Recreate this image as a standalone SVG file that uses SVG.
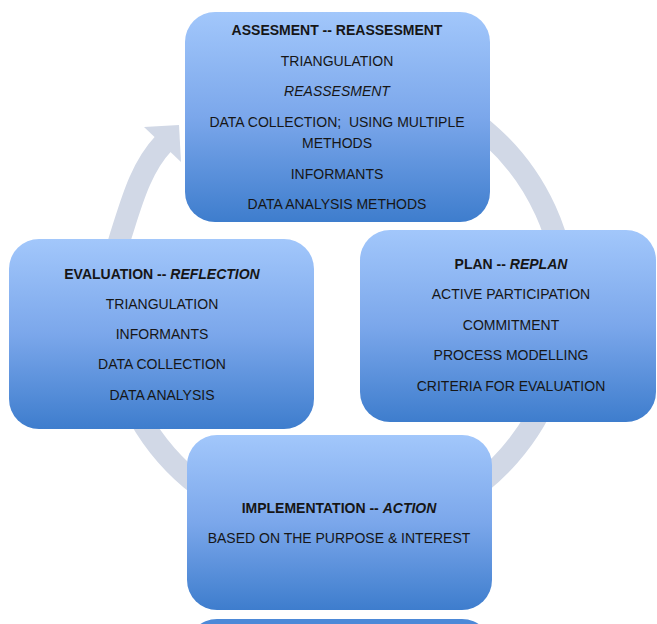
<svg xmlns="http://www.w3.org/2000/svg" width="657" height="624" viewBox="0 0 657 624">
<defs>
<linearGradient id="boxGrad" x1="0" y1="0" x2="0" y2="1">
<stop offset="0" stop-color="#A2C7FB"/>
<stop offset="0.5" stop-color="#7BA7EB"/>
<stop offset="1" stop-color="#3E7DCD"/>
</linearGradient>
<style>
.box{fill:url(#boxGrad);}
.ring{fill:none;stroke:#D1D8E6;stroke-width:22;}
.head{fill:#D1D8E6;}
text{font-family:"Liberation Sans",Arial,sans-serif;font-size:14px;fill:#161616;text-anchor:middle;white-space:pre;}
.t{font-weight:bold;}
.i{font-style:italic;}
</style>
</defs>
<rect width="657" height="624" fill="#FFFFFF"/>
<g id="connectors">
<path class="ring" d="M420,92.3 A228,228 0 1 1 121,235 C131.4,202.6 140.5,167.7 163.9,143"/>
<polygon class="head" points="179,125 144,127 181,162"/>
</g>
<g id="node-assessment">
<rect class="box" x="185" y="12" width="305" height="210" rx="30" ry="30"/>
<text x="337" y="35" class="t">ASSESMENT -- REASSESMENT</text>
<text x="337" y="66">TRIANGULATION</text>
<text x="337" y="96" class="i">REASSESMENT</text>
<text x="337" y="127" xml:space="preserve">DATA COLLECTION;  USING MULTIPLE</text>
<text x="337" y="148">METHODS</text>
<text x="337" y="179">INFORMANTS</text>
<text x="337" y="209">DATA ANALYSIS METHODS</text>
</g>
<g id="node-plan">
<rect class="box" x="360" y="230" width="296" height="192" rx="30" ry="30"/>
<text x="511" y="269"><tspan class="t">PLAN -- </tspan><tspan class="t i">REPLAN</tspan></text>
<text x="511" y="299">ACTIVE PARTICIPATION</text>
<text x="511" y="330">COMMITMENT</text>
<text x="511" y="360">PROCESS MODELLING</text>
<text x="511" y="391">CRITERIA FOR EVALUATION</text>
</g>
<g id="node-evaluation">
<rect class="box" x="9" y="239" width="305" height="190" rx="30" ry="30"/>
<text x="162" y="279"><tspan class="t">EVALUATION -- </tspan><tspan class="t i">REFLECTION</tspan></text>
<text x="162" y="309">TRIANGULATION</text>
<text x="162" y="339">INFORMANTS</text>
<text x="162" y="369">DATA COLLECTION</text>
<text x="162" y="400">DATA ANALYSIS</text>
</g>
<g id="node-implementation">
<rect class="box" x="187" y="435" width="305" height="175" rx="30" ry="30"/>
<text x="339" y="513"><tspan class="t">IMPLEMENTATION -- </tspan><tspan class="t i">ACTION</tspan></text>
<text x="339" y="543">BASED ON THE PURPOSE &amp; INTEREST</text>
</g>
<g id="node-partial">
<rect x="187" y="619" width="305" height="60" rx="30" ry="30" fill="#4C89D8"/>
</g>
</svg>
